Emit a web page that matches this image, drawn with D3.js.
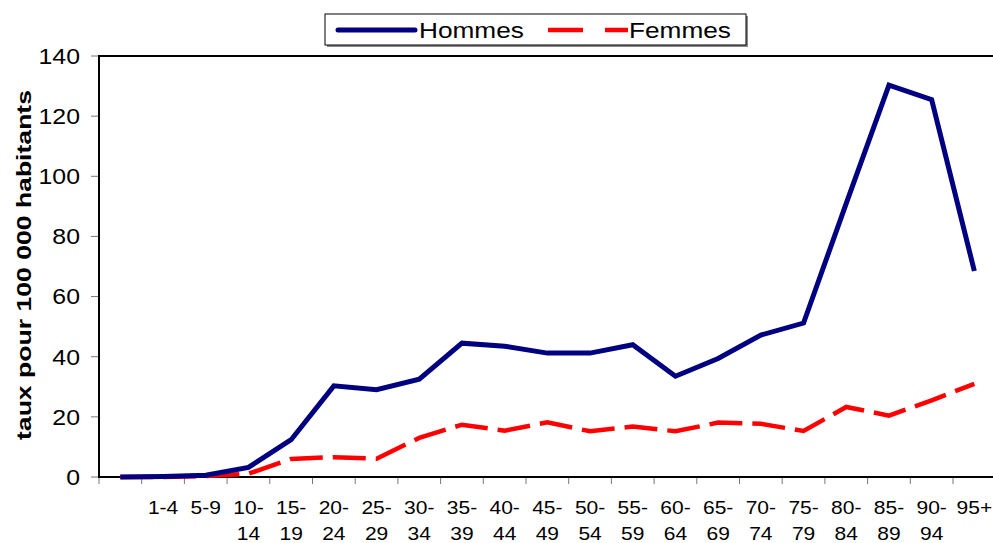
<!DOCTYPE html>
<html>
<head>
<meta charset="utf-8">
<script src="https://cdn.jsdelivr.net/npm/d3@7"></script>
<style>
  body { margin: 0; background: #fff; }
  svg { display: block; font-family: "Liberation Sans", Arial, sans-serif; }
</style>
</head>
<body>
<svg id="chart" width="993" height="543"></svg>
<script>
var ageGroups = ['<1', '1-4', '5-9', '10-14', '15-19', '20-24', '25-29', '30-34', '35-39', '40-44',
  '45-49', '50-54', '55-59', '60-64', '65-69', '70-74', '75-79', '80-84', '85-89', '90-94', '95+'];

var hommes = [0, 0.2, 0.6, 3.2, 12.4, 30.3, 29, 32.5, 44.5, 43.5,
  41.2, 41.2, 44, 33.5, 39.4, 47.2, 51.2, 91, 130.3, 125.5, 68.5];

var femmes = [0, 0, 0.3, 1.1, 6, 6.6, 6.1, 13, 17.4, 15.4,
  18.2, 15.2, 16.8, 15.2, 18.1, 17.7, 15.3, 23.3, 20.4, 25.5, 31];

var yTicks = [0, 20, 40, 60, 80, 100, 120, 140];

var svg = d3.select('#chart');

var plotLeft = 99, plotTop = 56, plotBottom = 477;
var band = 42.7;

var x = d3.scaleBand()
  .domain(ageGroups)
  .range([plotLeft, plotLeft + band * ageGroups.length])
  .padding(0);

var y = d3.scaleLinear()
  .domain([0, 140])
  .range([plotBottom, plotTop]);

var plotRight = x.range()[1];

// y ticks + labels
svg.selectAll('.ytick')
  .data(yTicks)
  .enter()
  .append('line')
  .attr('x1', plotLeft - 8)
  .attr('x2', plotLeft)
  .attr('y1', d => y(d))
  .attr('y2', d => y(d))
  .attr('stroke', '#777')
  .attr('stroke-width', 1);

svg.selectAll('.ylab')
  .data(yTicks)
  .enter()
  .append('text')
  .attr('transform', d => 'translate(80,' + y(d) + ') scale(1.13,1)')
  .attr('dy', '0.36em')
  .attr('text-anchor', 'end')
  .style('font-size', '22px')
  .text(d => d);

// x ticks at band edges
var xEdges = ageGroups.map(d => x(d)).concat([plotRight]);
svg.selectAll('.xtick')
  .data(xEdges)
  .enter()
  .append('line')
  .attr('x1', d => d)
  .attr('x2', d => d)
  .attr('y1', plotBottom)
  .attr('y2', plotBottom + 7)
  .attr('stroke', '#777')
  .attr('stroke-width', 1);

// x labels, wrapped after the dash
ageGroups.forEach(function(d) {
  var cx = x(d) + x.bandwidth() / 2;
  var lines;
  if (d === '<1') lines = [];
  else if (d.length > 3) lines = [d.slice(0, d.indexOf('-') + 1), d.slice(d.indexOf('-') + 1)];
  else lines = [d];
  svg.selectAll(null)
    .data(lines)
    .enter()
    .append('text')
    .attr('transform', (l, i) => 'translate(' + cx + ',' + (514 + i * 26) + ') scale(1.2,1)')
    .attr('text-anchor', 'middle')
    .style('font-size', '17.5px')
    .text(l => l);
});

// frame
svg.append('rect')
  .attr('x', plotLeft)
  .attr('y', plotTop)
  .attr('width', plotRight - plotLeft)
  .attr('height', plotBottom - plotTop)
  .attr('fill', 'none')
  .attr('stroke', '#000')
  .attr('stroke-width', 2);

// lines
var line = d3.line()
  .x((d, i) => x(ageGroups[i]) + x.bandwidth() / 2)
  .y(d => y(d));

svg.append('path')
  .datum(femmes)
  .attr('d', line)
  .attr('fill', 'none')
  .attr('stroke', '#ff0000')
  .attr('stroke-width', 4.5)
  .attr('stroke-dasharray', '33,10');

svg.append('path')
  .datum(hommes)
  .attr('d', line)
  .attr('fill', 'none')
  .attr('stroke', '#000080')
  .attr('stroke-width', 5)
  .attr('stroke-linejoin', 'miter');

// y axis title
svg.append('text')
  .attr('transform', 'translate(31,265) rotate(-90)')
  .attr('text-anchor', 'middle')
  .attr('textLength', 350)
  .attr('lengthAdjust', 'spacingAndGlyphs')
  .style('font-size', '21px')
  .style('font-weight', 'bold')
  .text('taux pour 100 000 habitants');

// legend
var lg = svg.append('g').attr('class', 'legend');
lg.append('rect')
  .attr('x', 327).attr('y', 16)
  .attr('width', 421).attr('height', 31)
  .attr('fill', '#888');
lg.append('rect')
  .attr('x', 325).attr('y', 14)
  .attr('width', 421).attr('height', 31)
  .attr('fill', '#fff')
  .attr('stroke', '#000')
  .attr('stroke-width', 1);

lg.append('line')
  .attr('x1', 338).attr('x2', 415)
  .attr('y1', 30).attr('y2', 30)
  .attr('stroke', '#000080')
  .attr('stroke-width', 5)
  .attr('stroke-linecap', 'round');
lg.append('text')
  .attr('transform', 'translate(419,38) scale(1.22,1)')
  .style('font-size', '21.5px')
  .text('Hommes');

lg.append('line')
  .attr('x1', 548).attr('x2', 628)
  .attr('y1', 30).attr('y2', 30)
  .attr('stroke', '#ff0000')
  .attr('stroke-width', 4.5)
  .attr('stroke-dasharray', '35,22');
lg.append('text')
  .attr('transform', 'translate(629,38) scale(1.22,1)')
  .style('font-size', '21.5px')
  .text('Femmes');
</script>
</body>
</html>
